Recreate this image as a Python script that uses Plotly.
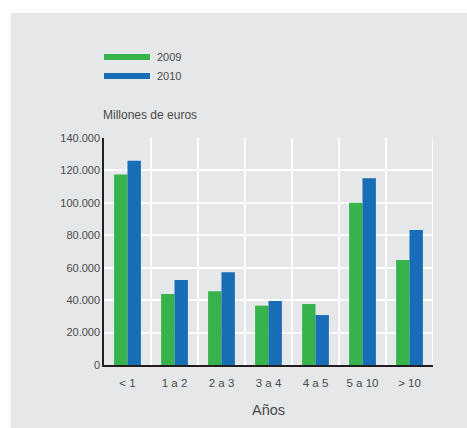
import plotly.graph_objects as go

categories = ["< 1", "1 a 2", "2 a 3", "3 a 4", "4 a 5", "5 a 10", "> 10"]
values_2009 = [117500, 43800, 45500, 36600, 37600, 100100, 64800]
values_2010 = [126000, 52400, 57200, 39500, 30800, 115200, 83300]
series_names = ["2009", "2010"]
y_ticks = [0, 20000, 40000, 60000, 80000, 100000, 120000, 140000]

GREEN = "#36b34a"
BLUE = "#176db6"
BG = "#e6e7e9"
TXT = "#4a4a4a"
FONT = "Liberation Sans, Arial, sans-serif"

W, H = 467, 428
x_idx = list(range(len(categories)))

fig = go.Figure()
fig.add_trace(go.Bar(x=x_idx, y=values_2009, name=series_names[0], marker=dict(color=GREEN, line=dict(width=0))))
fig.add_trace(go.Bar(x=x_idx, y=values_2010, name=series_names[1], marker=dict(color=BLUE, line=dict(width=0))))

shapes = []
# gray background panel
shapes.append(dict(type="rect", xref="paper", yref="paper", layer="below",
                   x0=(11 - 104) / (W - 104 - 34), x1=(W - 104) / (W - 104 - 34) + 0.01,
                   y0=-63 / (H - 138 - 63) - 0.01, y1=(H - 13 - 63) / (H - 138 - 63),
                   fillcolor=BG, line=dict(width=0)))
# vertical separators between categories
for i in range(len(categories)):
    shapes.append(dict(type="line", xref="x", yref="y", layer="below",
                       x0=i + 0.5, x1=i + 0.5, y0=0, y1=y_ticks[-1],
                       line=dict(color="white", width=2)))

# legend swatches
pw = W - 104 - 34
ph = H - 138 - 63
def px_x(px):
    return (px - 104) / pw
def px_y(py):
    return (H - 63 - py) / ph

annotations = []
for name, col, yc in [(series_names[0], GREEN, 57), (series_names[1], BLUE, 76)]:
    shapes.append(dict(type="rect", xref="paper", yref="paper",
                       x0=px_x(104), x1=px_x(150), y0=px_y(yc + 3), y1=px_y(yc - 3),
                       fillcolor=col, line=dict(width=0)))
    annotations.append(dict(xref="paper", yref="paper", x=px_x(155), y=px_y(yc),
                            text=name, showarrow=False, xanchor="left", yanchor="middle",
                            font=dict(size=11, color=TXT, family=FONT)))
annotations.append(dict(xref="paper", yref="paper", x=px_x(101), y=px_y(115),
                        text="Millones de euros", showarrow=False, xanchor="left", yanchor="middle",
                        font=dict(size=12, color=TXT, family=FONT)))

fig.update_layout(
    width=W, height=H,
    margin=dict(l=104, r=34, t=138, b=63),
    paper_bgcolor="white", plot_bgcolor=BG,
    separators=",.",
    barmode="group", bargap=0.43, bargroupgap=0,
    showlegend=False,
    shapes=shapes, annotations=annotations,
    font=dict(family=FONT, color=TXT, size=11),
    xaxis=dict(tickmode="array", tickvals=x_idx, ticktext=categories,
               range=[-0.5, len(categories) - 0.5], showgrid=False,
               showline=True, linecolor="#231f20", linewidth=1.5,
               ticks="", ticklen=0, tickfont=dict(size=11.5, color=TXT),
               ticklabelstandoff=6,
               title=dict(text="Años", font=dict(size=14.5, color=TXT), standoff=17),
               zeroline=False),
    yaxis=dict(range=[0, y_ticks[-1]], tickvals=y_ticks, tickformat=",d",
               showgrid=True, gridcolor="white", gridwidth=2,
               showline=True, linecolor="#231f20", linewidth=1.5,
               ticks="", tickfont=dict(size=11, color=TXT), zeroline=False),
)

fig.write_html("out.html")
